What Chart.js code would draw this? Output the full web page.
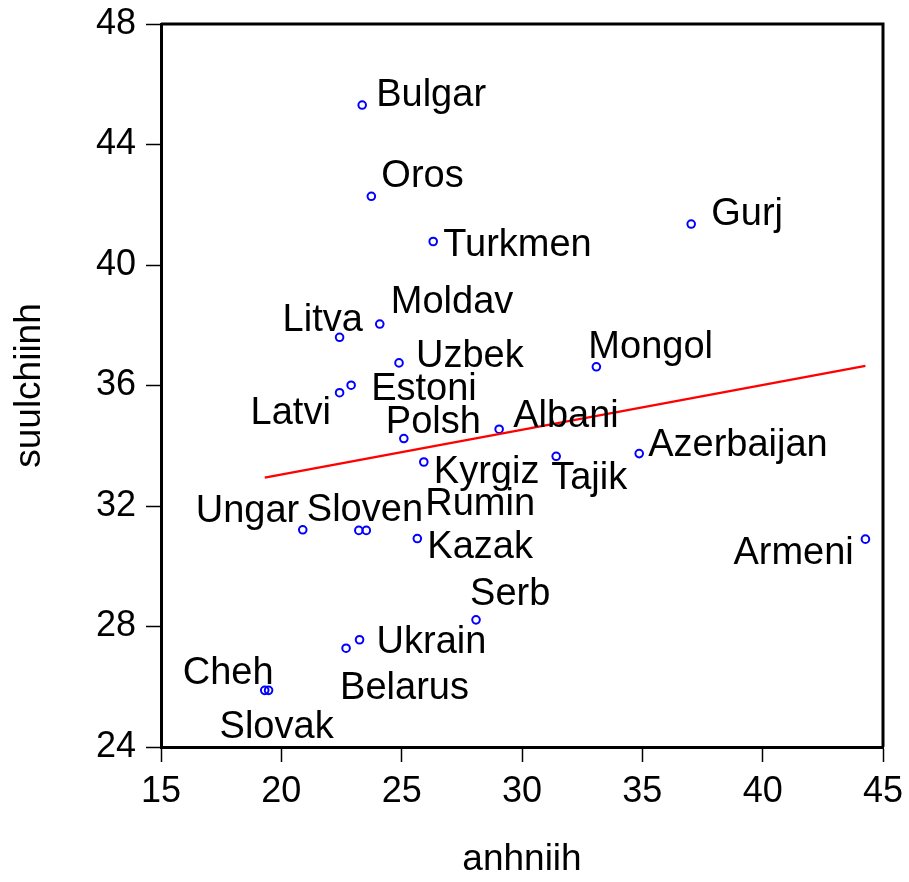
<!DOCTYPE html>
<html>
<head>
<meta charset="utf-8">
<script src="https://cdn.jsdelivr.net/npm/chart.js@4/dist/chart.umd.min.js"></script>
<style>
  html, body { margin: 0; padding: 0; background: #fff; }
  #wrap { width: 909px; height: 882px; }
</style>
</head>
<body>
<div id="wrap"><canvas id="scatter" width="909" height="882"></canvas></div>
<script>
// country names and values
const countries = ['Bulgar', 'Oros', 'Turkmen', 'Gurj', 'Moldav', 'Litva', 'Uzbek', 'Mongol',
  'Estoni', 'Latvi', 'Polsh', 'Albani', 'Azerbaijan', 'Tajik', 'Kyrgiz', 'Ungar', 'Sloven',
  'Rumin', 'Kazak', 'Armeni', 'Serb', 'Ukrain', 'Belarus', 'Cheh', 'Slovak'];
const anhniih = [23.36, 23.74, 26.31, 37.03, 24.09, 22.42, 24.89, 33.09,
  22.90, 22.42, 25.09, 29.05, 34.87, 31.42, 25.92, 20.89, 23.22,
  23.53, 25.65, 44.27, 28.09, 23.25, 22.69, 19.31, 19.47];
const suulchiinh = [45.31, 42.28, 40.78, 41.36, 38.04, 37.60, 36.75, 36.62,
  36.01, 35.76, 34.24, 34.55, 33.74, 33.65, 33.46, 31.21, 31.19,
  31.19, 30.92, 30.90, 28.22, 27.56, 27.28, 25.88, 25.88];

// fitted line end points
const fitX = [19.31, 44.27];
const fitY = [32.94, 36.65];

const xTicks = [15, 20, 25, 30, 35, 40, 45];
const yTicks = [24, 28, 32, 36, 40, 44, 48];

// where each name sits relative to its point (px, text left / baseline)
const labelOffsets = {
  Bulgar: [14, 1], Oros: [10, -9], Turkmen: [10, 14], Gurj: [20, 1],
  Moldav: [11, -11], Litva: [-57, -6], Uzbek: [17, 4], Mongol: [-8, -9],
  Estoni: [20, 15], Latvi: [-89, 31], Polsh: [-18, -6], Albani: [14, -2],
  Azerbaijan: [9, 2], Tajik: [-5, 33], Kyrgiz: [10, 21], Ungar: [-107, -8],
  Sloven: [-52, -9], Rumin: [59, -15], Kazak: [10, 19], Armeni: [-132, 25],
  Serb: [-6, -15], Ukrain: [17, 13], Belarus: [-6, 51], Cheh: [-82, -6],
  Slovak: [-49, 48]
};

const FONT = "'Liberation Sans', Arial, sans-serif";

const pointLabels = {
  id: 'pointLabels',
  afterDatasetsDraw(chart) {
    const meta = chart.getDatasetMeta(1);
    const ctx = chart.ctx;
    ctx.save();
    ctx.font = '38px ' + FONT;
    ctx.fillStyle = '#000';
    ctx.textAlign = 'left';
    ctx.textBaseline = 'alphabetic';
    meta.data.forEach((pt, i) => {
      const off = labelOffsets[countries[i]] || [8, 0];
      ctx.fillText(countries[i], pt.x + off[0], pt.y + off[1]);
    });
    ctx.restore();
  }
};

const frame = {
  id: 'frame',
  afterDraw(chart) {
    const a = chart.chartArea;
    const ctx = chart.ctx;
    ctx.save();
    ctx.strokeStyle = '#000';
    ctx.lineWidth = 3;
    ctx.beginPath();
    ctx.moveTo(a.left, a.top);
    ctx.lineTo(a.right, a.top);
    ctx.lineTo(a.right, a.bottom);
    ctx.stroke();
    ctx.restore();
  }
};

function setupScatter() {
  const ctx = document.getElementById('scatter').getContext('2d');
  new Chart(ctx, {
    type: 'scatter',
    data: {
      datasets: [{
        type: 'line',
        data: fitX.map((x, i) => ({ x: x, y: fitY[i] })),
        borderColor: '#ff0000',
        borderWidth: 2.3,
        pointRadius: 0,
        fill: false
      }, {
        data: anhniih.map((x, i) => ({ x: x, y: suulchiinh[i] })),
        pointRadius: 3.8,
        pointBorderWidth: 2,
        borderColor: '#0000ff',
        backgroundColor: 'rgba(0,0,0,0)',
        pointBackgroundColor: 'rgba(0,0,0,0)'
      }]
    },
    options: {
      responsive: false,
      animation: false,
      layout: { padding: { top: 24, right: 26, left: 0, bottom: 0 } },
      scales: {
        x: {
          type: 'linear',
          min: 15,
          max: 45,
          afterBuildTicks: s => { s.ticks = xTicks.map(v => ({ value: v })); },
          afterFit: s => { s.height = 135; s.paddingRight = 0; s.paddingLeft = 0; },
          grid: { drawOnChartArea: false, drawTicks: true, tickLength: 15, tickWidth: 1.5, tickColor: '#000' },
          border: { display: true, width: 3, color: '#000' },
          ticks: { color: '#000', padding: 8, font: { family: FONT, size: 36 } },
          title: { display: true, text: 'anhniih', color: '#000', padding: { top: 24, bottom: 0 }, font: { family: FONT, size: 37 } }
        },
        y: {
          type: 'linear',
          min: 24,
          max: 48,
          afterBuildTicks: s => { s.ticks = yTicks.map(v => ({ value: v })); },
          afterFit: s => { s.width = 161; s.paddingTop = 0; s.paddingBottom = 0; },
          grid: { drawOnChartArea: false, drawTicks: true, tickLength: 15, tickWidth: 1.5, tickColor: '#000' },
          border: { display: true, width: 3, color: '#000' },
          ticks: { color: '#000', padding: 10, font: { family: FONT, size: 36 } },
          title: { display: true, text: 'suulchiinh', color: '#000', padding: { bottom: 0, top: 8 }, font: { family: FONT, size: 37 } }
        }
      },
      plugins: {
        legend: { display: false },
        tooltip: { enabled: false }
      }
    },
    plugins: [pointLabels, frame]
  });
}

document.addEventListener('DOMContentLoaded', () => {
  setupScatter();
});
</script>
</body>
</html>
